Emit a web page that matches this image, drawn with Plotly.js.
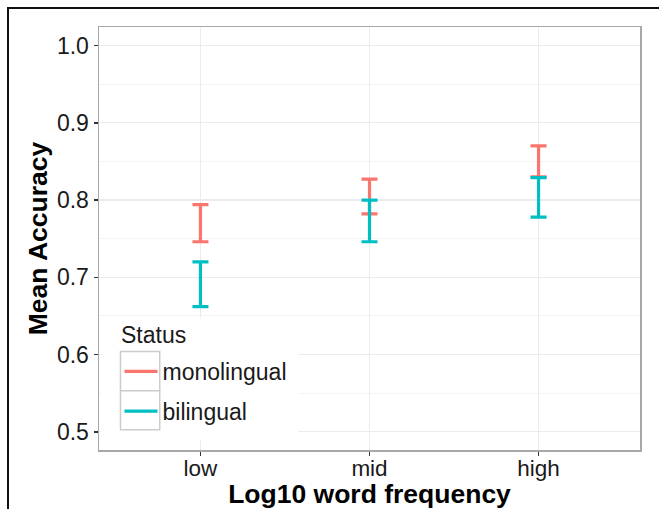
<!DOCTYPE html>
<html>
<head>
<meta charset="utf-8">
<script src="https://cdn.plot.ly/plotly-3.0.1.min.js"></script>
<style>
  html, body { margin: 0; padding: 0; background: #fff; }
  #wrap { position: relative; width: 659px; height: 509px; overflow: hidden; }
  #chart { width: 659px; height: 509px; }
  #frame { position: absolute; left: 7px; top: 7px; width: 700px; height: 600px;
           border-left: 2px solid #111; border-top: 2px solid #111; pointer-events: none; }
</style>
</head>
<body>
<div id="wrap"><div id="chart"></div><div id="frame"></div></div>
<script>
// Data
const categories = ["low", "mid", "high"];
const statuses = ["monolingual", "bilingual"];
const legendTitle = "Status";
const monoLower = [0.746, 0.782, 0.830];
const monoUpper = [0.794, 0.827, 0.870];
const biLower   = [0.662, 0.746, 0.778];
const biUpper   = [0.720, 0.800, 0.829];
const yTicks = [0.5, 0.6, 0.7, 0.8, 0.9, 1.0];
const yTickLabels = ["0.5", "0.6", "0.7", "0.8", "0.9", "1.0"];
const yMinorTicks = [0.55, 0.65, 0.75, 0.85, 0.95];

const colors = { monolingual: "#F8766D", bilingual: "#00BFC4" };
const FONT = "Liberation Sans, Arial, Helvetica, sans-serif";

function errTrace(name, lower, upper) {
  const mid = lower.map((l, i) => (l + upper[i]) / 2);
  return {
    type: "scatter", mode: "markers", x: categories, y: mid, name: name,
    showlegend: false, hoverinfo: "skip",
    marker: { size: 1, color: "rgba(0,0,0,0)" },
    error_y: {
      type: "data", symmetric: false,
      array: upper.map((u, i) => u - mid[i]),
      arrayminus: lower.map((l, i) => mid[i] - l),
      color: colors[name], thickness: 3.2, width: 8
    }
  };
}
function legendTrace(name) {
  return {
    type: "scatter", mode: "lines", x: [null], y: [null], name: name,
    legendgroup: name, showlegend: true,
    line: { color: colors[name], width: 3.2 }
  };
}

const data = [
  errTrace(statuses[0], monoLower, monoUpper),
  errTrace(statuses[1], biLower, biUpper),
  legendTrace(statuses[0]),
  legendTrace(statuses[1])
];

// helpers to convert pixel positions to paper coords
const L = 98.5, R = 640, T = 26.7, B = 450.3;
const px = v => (v - L) / (R - L);
const py = v => (B - v) / (B - T);

const shapes = [
  { type: "rect", xref: "paper", yref: "paper", layer: "above",
    x0: px(101), x1: px(298), y0: py(440), y1: py(318),
    fillcolor: "#ffffff", line: { width: 0 } },
  { type: "rect", xref: "paper", yref: "paper", layer: "above",
    x0: px(120), x1: px(159.3), y0: py(391), y1: py(351.7),
    fillcolor: "#ffffff", line: { color: "#CCCCCC", width: 1.5 } },
  { type: "rect", xref: "paper", yref: "paper", layer: "above",
    x0: px(120), x1: px(159.3), y0: py(430), y1: py(391),
    fillcolor: "#ffffff", line: { color: "#CCCCCC", width: 1.5 } }
];

const layout = {
  width: 659, height: 509,
  margin: { l: L, r: 659 - R, t: T, b: 509 - B, pad: 0 },
  paper_bgcolor: "#ffffff", plot_bgcolor: "#ffffff",
  font: { family: FONT, size: 23, color: "#1a1a1a" },
  showlegend: true,
  legend: {
    x: px(119), y: py(350), xanchor: "left", yanchor: "top",
    bgcolor: "rgba(0,0,0,0)", borderwidth: 0,
    font: { size: 23, family: FONT, color: "#1a1a1a" },
    tracegroupgap: 7, itemwidth: 33
  },
  annotations: [
    { text: legendTitle, xref: "paper", yref: "paper", x: px(119), y: py(335),
      xanchor: "left", yanchor: "middle", showarrow: false,
      font: { size: 23, family: FONT, color: "#1a1a1a" } }
  ],
  xaxis: {
    type: "category", categoryorder: "array", categoryarray: categories,
    range: [-0.6, 2.6], fixedrange: true,
    showgrid: true, gridcolor: "#EBEBEB", gridwidth: 1.2,
    showline: true, mirror: true, linecolor: "#A8A8A8", linewidth: 1.5,
    ticks: "outside", ticklen: 4, tickwidth: 1.5, tickcolor: "#333333",
    ticklabelstandoff: -7,
    tickfont: { size: 22.5, family: FONT, color: "#1a1a1a" },
    zeroline: false,
    title: { text: "<b>Log10 word frequency</b>", font: { size: 26.5, family: FONT, color: "#000" }, standoff: 12 }
  },
  yaxis: {
    range: [0.4764, 1.0240], fixedrange: true,
    tickvals: yTicks, ticktext: yTickLabels,
    showgrid: true, gridcolor: "#EBEBEB", gridwidth: 1.2,
    minor: { tickmode: "array", tickvals: yMinorTicks, showgrid: true, gridcolor: "#F4F4F4", gridwidth: 1, ticks: "" },
    showline: true, mirror: true, linecolor: "#A8A8A8", linewidth: 1.5,
    ticks: "outside", ticklen: 4, tickwidth: 1.5, tickcolor: "#333333",
    tickfont: { size: 23, family: FONT, color: "#1a1a1a" },
    zeroline: false,
    title: { text: "<b>Mean Accuracy</b>", font: { size: 26.5, family: FONT, color: "#000" }, standoff: 1 }
  },
  shapes: shapes
};

Plotly.newPlot("chart", data, layout, { staticPlot: true, displayModeBar: false });
</script>
</body>
</html>
